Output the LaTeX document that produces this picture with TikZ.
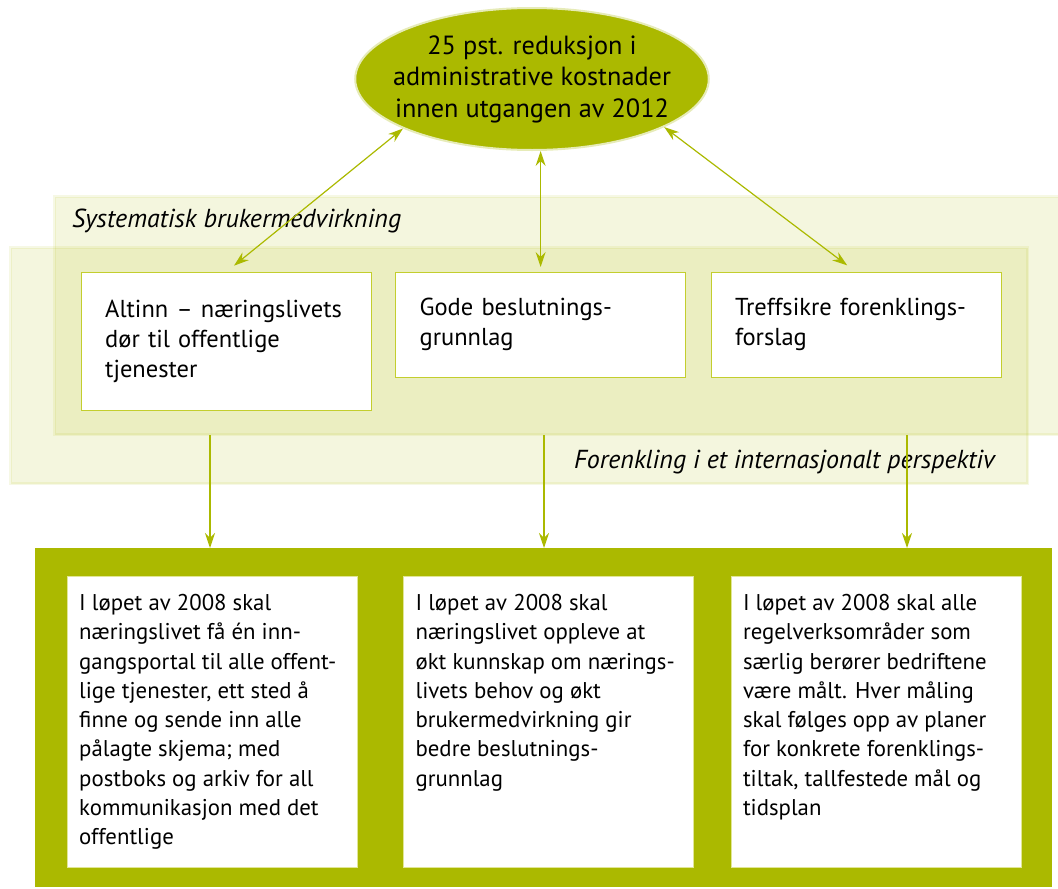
\documentclass[tikz,border=0pt]{standalone}
\usepackage{fontspec}
\setmainfont{PT Sans}
\usetikzlibrary{arrows.meta,positioning,shapes.geometric}
\definecolor{leaf}{HTML}{ABB900}
\definecolor{leafline}{HTML}{C3CE2E}
\definecolor{halo}{HTML}{E6EBB8}
\newcommand{\planpar}[1]{\parbox[t][255pt][t]{266pt}{\raggedright #1}}

\begin{document}
\begin{tikzpicture}[x=1pt, y=-1pt, >={Stealth[length=15pt,width=10pt]},
  goal/.style={ellipse, draw=halo, line width=2pt, fill=leaf, minimum width=349pt,
    minimum height=142pt, inner xsep=-14pt, inner ysep=0pt, align=center,
    font=\fontsize{26.3}{31.5}\selectfont},
  band/.style={anchor=north west, inner sep=0pt, fill=leaf, fill opacity=0.13,
    draw=leaf, draw opacity=0.10, line width=3pt},
  bandlabel/.style={inner sep=0pt, font=\itshape\fontsize{26}{30}\selectfont},
  area/.style={anchor=north west, draw=leafline, fill=white, text width=242pt,
    inner xsep=24pt, inner ysep=0pt, align=left, font=\fontsize{24.5}{30}\selectfont},
  plan/.style={anchor=north west, draw=leafline!50, fill=white, inner xsep=12pt,
    inner ysep=18pt, font=\fontsize{22.8}{29.3}\selectfont},
  link/.style={leaf, line width=1.2pt}]
  \useasboundingbox (0,0) rectangle (1058,889);

  % background bands
  \node[band, minimum width=1012pt, minimum height=238pt] (systematisk) at (53,195) {};
  \node[band, minimum width=1017pt, minimum height=236pt] (forenkling) at (9,246) {};
  \node[bandlabel, anchor=base west] (syslabel) at (72,227) {Systematisk brukermedvirkning};
  \node[bandlabel, anchor=base east] (forlabel) at (995,468) {Forenkling i et internasjonalt perspektiv};

  % goal and focus areas
  \node[goal] (goal) at (532,79) {25 pst. reduksjon i\\administrative kostnader\\innen utgangen av 2012};
  \node[area, minimum height=138pt] (altinn) at (81,272) {Altinn -- næringslivets\\dør til offentlige\\tjenester};
  \node[area, minimum height=105pt, right=24pt of altinn.north east, anchor=north west] (gode) {Gode beslutnings-\\grunnlag};
  \node[area, minimum height=105pt, right=25pt of gode.north east, anchor=north west] (treff) {Treffsikre forenklings-\\forslag};

  \draw[link, <->] (goal.201) -- (altinn.north) [shorten >=10pt];
  \draw[link, <->] (goal.south -| gode.north) -- (gode.north) [shorten >=5pt];
  \draw[link, <->] (goal.340) -- (treff.north) [shorten >=11pt];

  % targets for 2008
  \node[anchor=north west, fill=leaf, minimum width=1017pt, minimum height=339pt, inner sep=0pt] (plan) at (35,548) {};
  \node[plan] (plan1) at (67,576) {\planpar{I løpet av 2008 skal\\næringslivet få én inn-\\gangsportal til alle offent-\\lige tjenester, ett sted å\\finne og sende inn alle\\pålagte skjema; med\\postboks og arkiv for all\\kommunikasjon med det\\offentlige}};
  \node[plan, right=46pt of plan1.north east, anchor=north west] (plan2) {\planpar{I løpet av 2008 skal\\næringslivet oppleve at\\økt kunnskap om nærings-\\livets behov og økt\\brukermedvirkning gir\\bedre beslutnings-\\grunnlag}};
  \node[plan, right=37pt of plan2.north east, anchor=north west] (plan3) {\planpar{I løpet av 2008 skal alle\\regelverksområder som\\særlig berører bedriftene\\være målt. Hver måling\\skal følges opp av planer\\for konkrete forenklings-\\tiltak, tallfestede mål og\\tidsplan}};

  \coordinate (drop1) at (210,435);
  \coordinate (drop2) at (544,435);
  \coordinate (drop3) at (907,435);
  \draw[link, ->] (drop1) -- (drop1 |- plan.north);
  \draw[link, ->] (drop2) -- (drop2 |- plan.north);
  \draw[link, ->] (drop3) -- (drop3 |- plan.north);
\end{tikzpicture}
\end{document}
